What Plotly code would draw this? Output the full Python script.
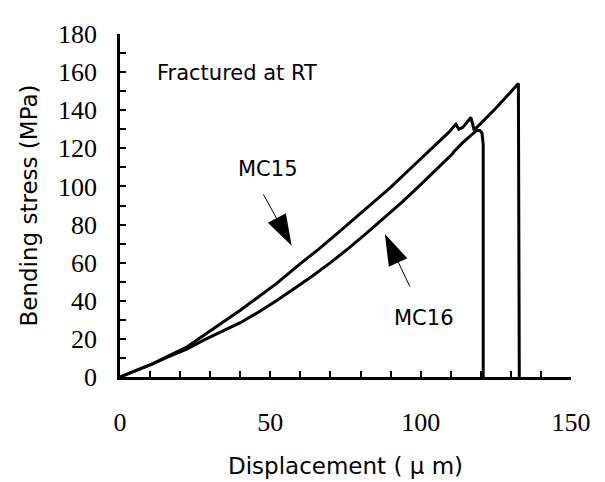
import plotly.graph_objects as go

# ---- data ----
mc15_x = [0, 5, 11, 16, 22, 28, 34, 40, 46, 52, 60, 66, 72, 78, 84, 90, 96, 103, 107,
          109.4, 111.7, 112.7, 114, 116.7, 117.7, 118.7, 125, 132.5, 132.8]
mc15_y = [0, 3, 7, 11, 15.5, 22, 28.5, 35, 42, 49, 59.5, 67, 75, 83, 91, 99.5, 108.5, 119, 125,
          128.5, 132.6, 130, 131, 136.2, 130.1, 131, 141, 154, 0]

mc16_x = [0, 5, 11, 16, 22, 28, 34, 40, 46, 52, 58, 64, 70, 76, 82, 88, 94, 100, 106,
          110.5, 111.2, 114, 118.6, 119.7, 120.4, 120.8, 120.8]
mc16_y = [0, 3, 7, 10.5, 14.5, 19.5, 24, 28.5, 34, 40, 46.5, 53, 60, 67.5, 75.5, 83.5, 92, 101, 110,
          117, 118.5, 123, 129.4, 129.4, 128, 122, 0]

x_ticks = list(range(0, 151, 10))
x_labels = [str(v) if v % 50 == 0 else "" for v in x_ticks]
y_ticks = list(range(0, 181, 10))
y_labels = [str(v) if v % 20 == 0 else "" for v in y_ticks]

labels = ["MC15", "MC16"]
label_x = [49.2, 101.1]
label_y = [109.4, 30.9]
arrow_tail_x = [47.7, 96.4]
arrow_tail_y = [95.8, 47.5]
arrow_tip_x = [57.1, 88.1]
arrow_tip_y = [68.9, 75.0]

sans = "DejaVu Sans"
serif = "Liberation Serif, Times New Roman, serif"

fig = go.Figure()
fig.add_trace(go.Scatter(x=mc15_x, y=mc15_y, mode="lines",
                         line=dict(color="black", width=3), name="MC15", showlegend=False))
fig.add_trace(go.Scatter(x=mc16_x, y=mc16_y, mode="lines",
                         line=dict(color="black", width=3), name="MC16", showlegend=False))

for i in range(2):
    fig.add_trace(go.Scatter(
        x=[arrow_tail_x[i], arrow_tip_x[i]], y=[arrow_tail_y[i], arrow_tip_y[i]],
        mode="lines+markers", line=dict(color="black", width=1),
        marker=dict(symbol=["circle", "arrow"], size=[0, 33], color="black", opacity=1,
                    angleref="previous", line=dict(width=0, color="black")),
        showlegend=False, hoverinfo="skip"))
    fig.add_annotation(x=label_x[i], y=label_y[i], text=labels[i], showarrow=False,
                       font=dict(family=sans, size=21, color="black"),
                       xanchor="center", yanchor="middle")

fig.add_annotation(x=11.6, y=159.6, text="Fractured at RT", showarrow=False,
                   font=dict(family=sans, size=21, color="black"),
                   xanchor="left", yanchor="middle")

fig.add_annotation(xref="paper", yref="paper", x=0.5, y=0, yshift=-89,
                   text="Displacement ( \u03bc m)", showarrow=False,
                   font=dict(family=sans, size=23, color="black"),
                   xanchor="center", yanchor="middle")
fig.add_annotation(xref="paper", yref="paper", x=0, y=0.5, xshift=-92,
                   text="Bending stress (MPa)", showarrow=False, textangle=-90,
                   font=dict(family=sans, size=23, color="black"),
                   xanchor="center", yanchor="middle")

fig.update_xaxes(range=[0, 150], tickmode="array", tickvals=x_ticks, ticktext=x_labels,
                 ticks="inside", ticklen=6, tickwidth=1.5, tickcolor="black",
                 showline=True, linewidth=2.5, linecolor="black", showgrid=False,
                 zeroline=False, ticklabelstandoff=20,
                 tickfont=dict(family=serif, size=26, color="black"))
fig.update_yaxes(range=[0, 180], tickmode="array", tickvals=y_ticks, ticktext=y_labels,
                 ticks="inside", ticklen=6, tickwidth=1.5, tickcolor="black",
                 showline=True, linewidth=2.5, linecolor="black", showgrid=False,
                 zeroline=False, ticklabelstandoff=15,
                 tickfont=dict(family=serif, size=26, color="black"))

# page body has an 8px default margin, so the figure margins compensate for it
fig.update_layout(width=605, height=482, margin=dict(l=112, r=42, t=16, b=113),
                  plot_bgcolor="white", paper_bgcolor="white", showlegend=False)

fig.write_html("out.html")
